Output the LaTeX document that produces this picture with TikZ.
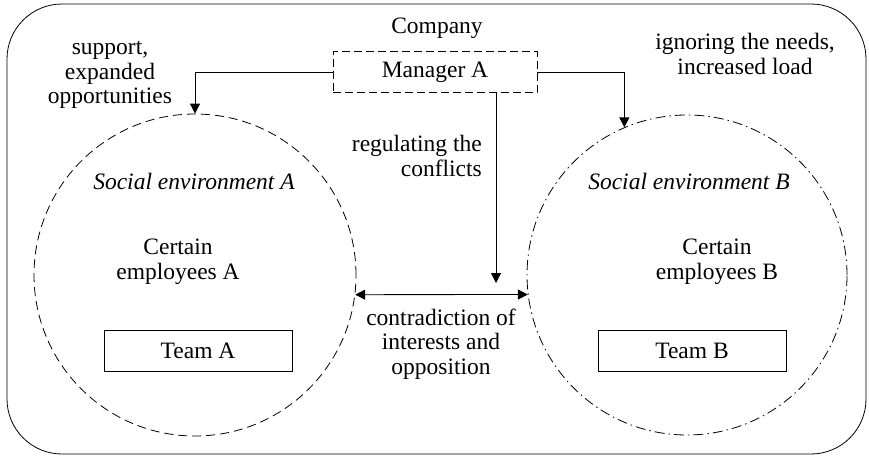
\documentclass[tikz,border=0pt]{standalone}
\usepackage{fontspec}
\setmainfont{Liberation Serif}
\usetikzlibrary{arrows.meta}
\tikzset{
	txt/.style={inner sep=0pt, align=center, font=\fontsize{23.5}{24.5}\selectfont},
	teambox/.style={draw, line width=0.8pt, minimum width=188pt, minimum height=41pt, txt},
	link/.style={line width=0.8pt, -{Triangle[length=10pt, width=10pt]}}
}
\begin{document}
\begin{tikzpicture}[x=10pt, y=-10pt]
	\useasboundingbox (0,0) rectangle (86.9,45.5);
	\draw[line width=0.8pt, rounded corners=55pt] (0.7,0.4) rectangle (86.6,45.4);
	\node[txt] (company) at (43.7,2.8) {Company};
	\node[txt, draw, line width=0.8pt, dash pattern=on 8pt off 4pt, minimum width=204pt, minimum height=41pt] (mgr) at (43.5,7.2) {Manager A};
	% social environments
	\node[circle, draw, line width=0.8pt, dash pattern=on 9pt off 5pt, minimum size=322pt] (envA) at (19.5,27.5) {};
	\node[circle, draw, line width=0.8pt, dash pattern=on 10pt off 4pt on 1.5pt off 4pt, minimum size=320pt] (envB) at (68.7,27.5) {};
	\node[txt] (socA) at (19.4,18.1) {\itshape Social environment A};
	\node[txt] (socB) at (68.9,18.1) {\itshape Social environment B};
	\node[txt] (empA) at (17.8,26.2) {Certain\\employees A};
	\node[txt] (empB) at (71.7,26.2) {Certain\\employees B};
	\node[teambox] (teamA) at (19.8,35.1) {Team A};
	\node[teambox] (teamB) at (69.2,35.1) {Team B};
	% labels
	\node[txt] (support) at (11.0,7.5) {support,\\expanded\\opportunities};
	\node[txt] (ignore) at (74.5,5.4) {ignoring the needs,\\increased load};
	\node[txt, align=right, anchor=east] (regul) at (48.2,15.6) {regulating the\\conflicts};
	\node[txt] (contra) at (44.1,34.4) {contradiction of\\interests and\\opposition};
	\coordinate (regEnd) at (49.6,28.3);
	% connectors
	\draw[link] (mgr.west) -| (envA.north);
	\draw[link] (mgr.east) -| (envB.113);
	\draw[link] (mgr.south -| regEnd) -- (regEnd);
	\draw[link, {Triangle[length=10pt, width=10pt]}-{Triangle[length=10pt, width=10pt]}] (envA.-7.5) -- (envB.187.5);
\end{tikzpicture}
\end{document}
